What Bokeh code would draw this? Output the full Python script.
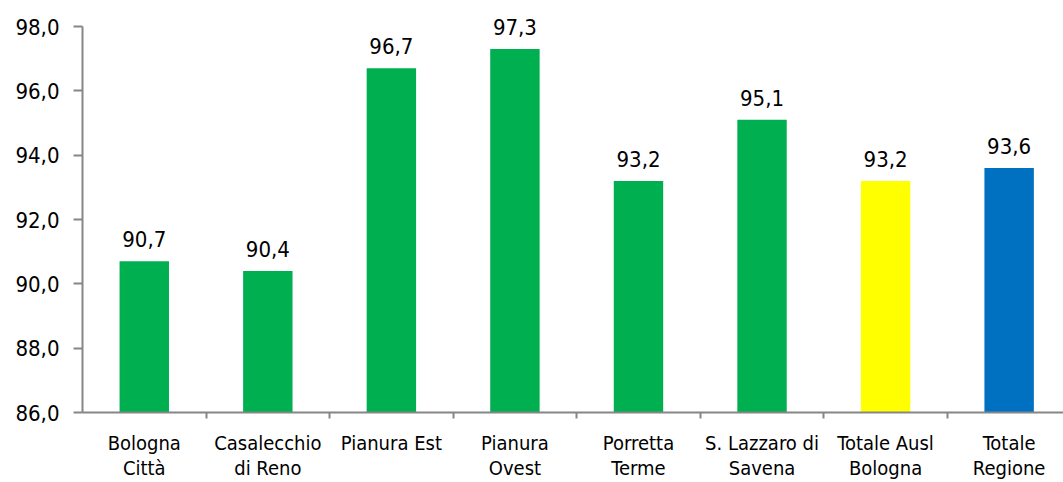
from bokeh.plotting import figure
from bokeh.models import FixedTicker, ColumnDataSource
from bokeh.core.properties import value
from bokeh.embed import file_html
from bokeh.resources import INLINE

categories = ["Bologna\nCittà", "Casalecchio\ndi Reno", "Pianura Est", "Pianura\nOvest",
              "Porretta\nTerme", "S. Lazzaro di\nSavena", "Totale Ausl\nBologna", "Totale\nRegione"]
values = [90.7, 90.4, 96.7, 97.3, 93.2, 95.1, 93.2, 93.6]
colors = ["#00B050", "#00B050", "#00B050", "#00B050", "#00B050", "#00B050", "#FFFF00", "#0070C0"]
y_ticks = [86, 88, 90, 92, 94, 96, 98]
y_tick_labels = ["86,0", "88,0", "90,0", "92,0", "94,0", "96,0", "98,0"]

FONT = "DejaVu Sans Condensed"
n = len(categories)
xs = [i + 0.5 for i in range(n)]
labels = [f"{v:.1f}".replace(".", ",") for v in values]

src = ColumnDataSource(dict(x=xs, top=values, color=colors, label=labels))

p = figure(width=1063, height=482, x_range=(0, 7.94), y_range=(86, 98.81),
           output_backend="svg", toolbar_location=None,
           min_border_left=82, min_border_right=0, min_border_top=0, min_border_bottom=70)
p.outline_line_color = None
p.xgrid.visible = False
p.ygrid.visible = False

p.vbar(x="x", top="top", bottom=86, width=0.4, color="color", line_color=None, source=src)
p.text(x="x", y="top", text="label", source=src, text_align="center", text_baseline="alphabetic",
       y_offset=-22, text_font=value(FONT), text_font_size="22px", text_color="#000000")

gray = "#868686"
# y axis
ya = p.yaxis[0]
ya.ticker = FixedTicker(ticks=y_ticks, minor_ticks=[])
ya.major_label_overrides = {t: l for t, l in zip(y_ticks, y_tick_labels)}
ya.bounds = (86, 98)
ya.axis_line_color = gray
ya.axis_line_width = 2
ya.major_tick_line_color = gray
ya.major_tick_line_width = 2
ya.major_tick_out = 9
ya.major_tick_in = 0
ya.minor_tick_line_color = None
ya.major_label_standoff = 14
ya.major_label_text_font = FONT
ya.major_label_text_font_size = "22px"
ya.major_label_text_color = "#000000"

# x axis
xa = p.xaxis[0]
xa.ticker = FixedTicker(ticks=xs, minor_ticks=list(range(1, n + 1)))
xa.major_label_overrides = {x: c for x, c in zip(xs, categories)}
xa.axis_line_color = gray
xa.axis_line_width = 2
xa.major_tick_line_color = None
xa.major_tick_out = 0
xa.major_tick_in = 0
xa.minor_tick_line_color = gray
xa.minor_tick_line_width = 2
xa.minor_tick_out = 6
xa.minor_tick_in = 0
xa.major_label_standoff = 12
xa.major_label_text_font = FONT
xa.major_label_text_font_size = "20px"
xa.major_label_text_line_height = 1.05
xa.major_label_text_color = "#000000"
xa.major_label_orientation = "horizontal"

open("out.html", "w").write(file_html(p, INLINE))
